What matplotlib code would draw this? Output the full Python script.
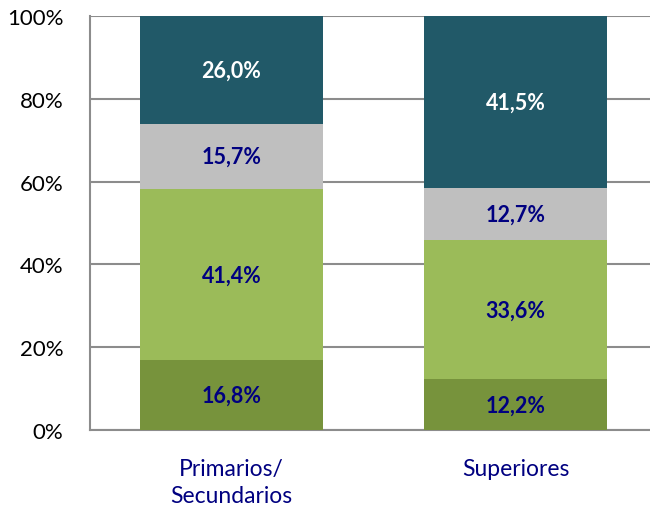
import matplotlib.pyplot as plt
import numpy as np

plt.rcParams['font.family'] = ['Lato', 'DejaVu Sans']

# Data
categories = ['Primarios/\nSecundarios', 'Superiores']
seg1 = [16.8, 12.2]
seg2 = [41.4, 33.6]
seg3 = [15.7, 12.7]
seg4 = [26.0, 41.5]
series = [seg1, seg2, seg3, seg4]
colors = ['#77933C', '#9BBB59', '#BFBFBF', '#215968']
label_colors = ['#000080', '#000080', '#000080', 'white']

fig = plt.figure(figsize=(6.5, 5.06), dpi=100)
ax = fig.add_axes([90 / 650, 1 - 431 / 506, 560 / 650, 414 / 506])

x = np.arange(len(categories))
bottom = np.zeros(len(categories))
for vals, c, lc in zip(series, colors, label_colors):
    vals = np.array(vals)
    ax.bar(x, vals, width=0.644, bottom=bottom, color=c, zorder=3)
    for xi, v, b in zip(x, vals, bottom):
        ax.text(xi, b + v / 2, ('%.1f%%' % v).replace('.', ','), ha='center', va='center',
                color=lc, fontsize=15.5, fontweight='bold', zorder=4)
    bottom = bottom + vals

ax.set_ylim(0, 100)
ax.set_xlim(-0.498, 1.474)
ax.set_yticks([0, 20, 40, 60, 80, 100])
ax.set_yticklabels(['0%', '20%', '40%', '60%', '80%', '100%'], fontsize=16)
ax.set_xticks(x)
ax.set_xticklabels(categories, fontsize=16.5, color='#000080', linespacing=1.35)
ax.yaxis.grid(True, color='#8c8c8c', linewidth=1.5, zorder=0)
ax.tick_params(axis='y', length=0, pad=19)
ax.tick_params(axis='x', length=0, pad=20)

for s in ['top', 'right']:
    ax.spines[s].set_visible(False)
for s in ['left', 'bottom']:
    ax.spines[s].set_color('#8c8c8c')
    ax.spines[s].set_linewidth(1.5)

fig.savefig('out.png', dpi=100)
